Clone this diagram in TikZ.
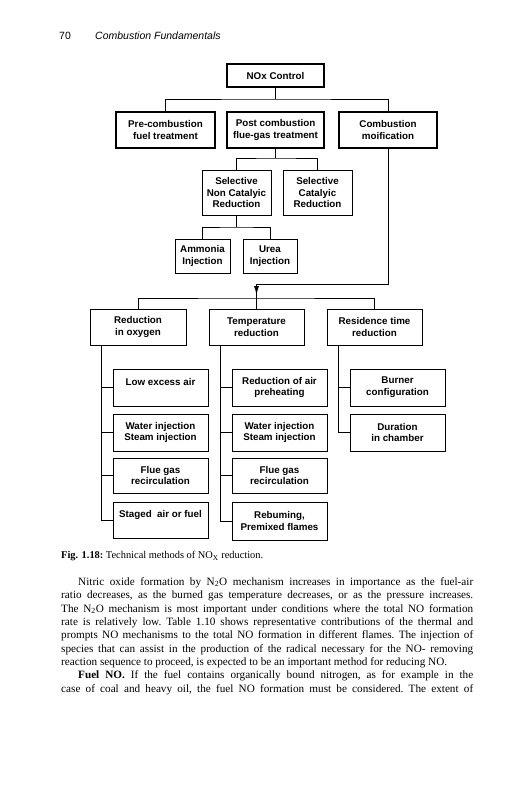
\documentclass[tikz,border=0pt]{standalone}
\usepackage{fontspec}
\setmainfont{Liberation Serif}
\newfontfamily\arialfont{Liberation Sans}
\usetikzlibrary{arrows.meta}
\newcommand\fullline[1]{\noindent\hbox to 412pt{#1}\par}
\newcommand\shortline[1]{\noindent\hbox{#1}\par}
\newcommand\bodyspacing{\frenchspacing\spaceskip=0.25em plus 1em minus 0.08em\relax}
\begin{document}
\begin{tikzpicture}[x=1pt,y=-1pt,
  boxtxt/.style={font=\arialfont\bfseries\fontsize{9.8}{11.7}\selectfont},
  topbox/.style={draw, line width=1.3pt, align=center, inner sep=0pt, boxtxt},
  lowbox/.style={draw, line width=0.8pt, align=center, inner sep=0pt, boxtxt},
  subbox/.style={lowbox, minimum width=95pt, minimum height=36pt},
  conn/.style={line width=0.9pt},
  thin conn/.style={line width=0.7pt},
]
\fill[white] (0,0) rectangle (532,800);
\useasboundingbox (0,0) rectangle (532,800);

% header
\node[anchor=base west, inner sep=0pt, font=\arialfont\fontsize{10.5}{12}\selectfont] (pagenum) at (59,39.5) {70};
\node[anchor=base west, inner sep=0pt, font=\arialfont\itshape\fontsize{10.5}{12}\selectfont] (runhead) at (95,39.5) {Combustion Fundamentals};

% level 1 and 2
\node[topbox, minimum width=97pt, minimum height=23pt] (nox) at (275.5,75.5) {NOx Control};
\node[topbox, minimum width=99pt, minimum height=36pt] (pre) at (165.5,130) {Pre-combustion\\fuel treatment};
\node[topbox, minimum width=97pt, minimum height=36pt] (post) at (275.5,130) {Post combustion\\flue-gas treatment};
\node[topbox, minimum width=98pt, minimum height=36pt] (comb) at (388,130) {Combustion\\moification};

\coordinate (b1) at (275.5,99);
\draw[conn] (nox.south) -- (b1);
\draw[conn] (pre.north) |- (b1) -| (comb.north);

% catalytic
\node[lowbox, minimum width=69pt, minimum height=45pt] (sncr) at (236.5,192.5) {Selective\\Non Catalyic\\Reduction};
\node[lowbox, minimum width=69pt, minimum height=45pt] (scr) at (317.5,192.5) {Selective\\Catalyic\\Reduction};
\coordinate (b2) at (275.5,158);
\draw[thin conn] (post.south) -- (b2);
\draw[thin conn] (sncr.north) |- (b2) -| (scr.north);

\node[lowbox, minimum width=55pt, minimum height=34pt] (amm) at (202.5,256) {Ammonia\\Injection};
\node[lowbox, minimum width=54pt, minimum height=34pt] (urea) at (270,256) {Urea\\Injection};
\coordinate (b3) at (236.5,227);
\draw[thin conn] (sncr.south) -- (b3);
\draw[thin conn] (amm.north) |- (b3) -| (urea.north);

% combustion modification line with arrow
\coordinate (j) at (256.5,284);
\coordinate (tip) at (256.5,295);
\coordinate (b4) at (256.5,298);
\draw[conn] (comb.south) |- (j);
\draw[conn] (j) -- (b4);
\draw[conn, -{Latex[length=9pt,width=5pt]}] (j) -- (tip);

% level 3
\node[lowbox, minimum width=96pt, minimum height=36pt] (redox) at (138,327) {Reduction\\in oxygen};
\node[lowbox, minimum width=95pt, minimum height=36pt] (temp) at (256.5,327) {Temperature\\reduction};
\node[lowbox, minimum width=95pt, minimum height=36pt] (res) at (374.5,327) {Residence time\\reduction};
\draw[thin conn] (redox.north) |- (b4) -| (res.north);
\draw[thin conn] (b4) -- (temp.north);

% column 1
\node[subbox, minimum height=37pt] (lea) at (160.5,387.5) {Low excess air\\\mbox{}};
\node[subbox, minimum height=37pt] (wat1) at (160.5,432.5) {Water injection\\Steam injection};
\node[subbox, minimum height=35pt] (flue1) at (160.5,475.5) {Flue gas\\recirculation};
\node[subbox] (stg) at (160.5,520) {Staged\ \ air or fuel\\\mbox{}};
\coordinate (t1) at ([xshift=12pt]redox.south west);
\draw[thin conn] (t1) |- (stg.west);
\foreach \n in {lea,wat1,flue1} \draw[thin conn] (\n.west) -- (\n.west -| t1);

% column 2
\node[subbox, minimum height=37pt] (rap) at (279.5,387.5) {Reduction of air\\preheating};
\node[subbox, minimum height=37pt] (wat2) at (279.5,432.5) {Water injection\\Steam injection};
\node[subbox, minimum height=35pt] (flue2) at (279.5,475.5) {Flue gas\\recirculation};
\node[subbox, minimum height=38pt] (reb) at (279.5,521) {Rebuming,\\Premixed flames};
\coordinate (t2) at ([xshift=12pt]temp.south west);
\draw[thin conn] (t2) |- (reb.west);
\foreach \n in {rap,wat2,flue2} \draw[thin conn] (\n.west) -- (\n.west -| t2);

% column 3
\node[subbox, minimum height=37pt] (burn) at (397.5,387.5) {Burner\\configuration};
\node[subbox, minimum height=37pt] (dur) at (397.5,432.5) {Duration\\in chamber};
\coordinate (t3) at ([xshift=12pt]res.south west);
\draw[thin conn] (t3) |- (dur.west);
\draw[thin conn] (burn.west) -- (burn.west -| t3);

% caption
\node[anchor=base west, inner sep=0pt, font=\fontsize{10.4}{12}\selectfont] (caption) at (61,558.5) {\textbf{Fig. 1.18:}\ Technical methods of NO\textsubscript{X} reduction.};

% body text
\node[anchor=base west, text width=412pt, inner sep=0pt, font=\fontsize{11.2}{13.35}\selectfont] (body) at (61,585.3) {\bodyspacing
\fullline{\hspace*{17pt}Nitric oxide formation by N\textsubscript{2}O mechanism increases in importance as the fuel-air}
\fullline{ratio decreases, as the burned gas temperature decreases, or as the pressure increases.}
\fullline{The N\textsubscript{2}O mechanism is most important under conditions where the total NO formation}
\fullline{rate is relatively low. Table 1.10 shows representative contributions of the thermal and}
\fullline{prompts NO mechanisms to the total NO formation in different flames. The injection of}
\fullline{species that can assist in the production of the radical necessary for the NO- removing}
\shortline{reaction sequence to proceed, is expected to be an important method for reducing NO.}
\fullline{\hspace*{17pt}\textbf{Fuel NO.} If the fuel contains organically bound nitrogen, as for example in the}
\fullline{case of coal and heavy oil, the fuel NO formation must be considered. The extent of}};
\end{tikzpicture}
\end{document}
